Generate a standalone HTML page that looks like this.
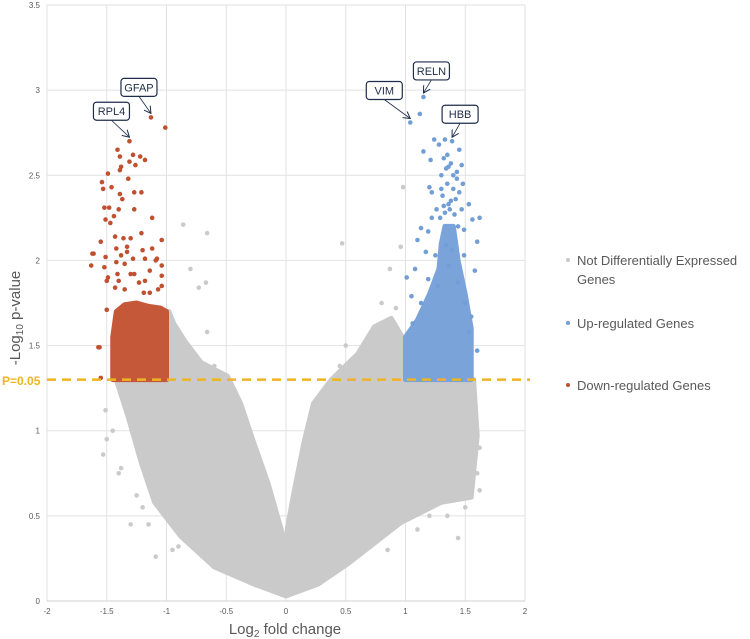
<!DOCTYPE html>
<html><head><meta charset="utf-8"><style>
body{margin:0;background:#fff;}
svg{display:block;font-family:"Liberation Sans",sans-serif;}
</style></head><body>
<svg id="chart" width="750" height="639" viewBox="0 0 750 639">
<g id="grid"></g>
<g id="ticks"></g>
<g id="marks"></g>
<g id="ann"></g>
<text x="285" y="634" text-anchor="middle" font-size="15" fill="#595959">Log<tspan font-size="10" dy="3">2</tspan><tspan dy="-3"> fold change</tspan></text>
<text transform="translate(20,318) rotate(-90)" text-anchor="middle" font-size="15" fill="#595959">-Log<tspan font-size="10" dy="3">10</tspan><tspan dy="-3"> p-value</tspan></text>
<text x="2" y="385" font-size="12" font-weight="bold" fill="#f0b323">P=0.05</text>
<g>
<g><circle cx="568" cy="260" r="2" fill="#c9c8c8"/><text x="577" y="265" font-size="13" fill="#595959">Not Differentially Expressed</text><text x="577" y="284" font-size="13" fill="#595959">Genes</text></g>
<g><circle cx="568" cy="323" r="2" fill="#729ed6"/><text x="577" y="328" font-size="13" fill="#595959">Up-regulated Genes</text></g>
<g><circle cx="568" cy="385" r="2" fill="#c0502f"/><text x="577" y="390" font-size="13" fill="#595959">Down-regulated Genes</text></g>
</g>
</svg>
<script>
const xTicks=[-2,-1.5,-1,-0.5,0,0.5,1,1.5,2];
const yTicks=[0,0.5,1,1.5,2,2.5,3,3.5];
const threshold=1.3;
const grayEnvX=[0,-0.27,-0.6,-0.88,-1.1,-1.21,-1.32,-1.42,-1.0,-0.98,-0.94,-0.85,-0.71,-0.49,-0.38,-0.27,-0.15,-0.04,0,0.01,0.07,0.15,0.23,0.38,0.6,0.74,0.88,0.99,1.0,1.57,1.6,1.55,1.3,0.96,0.74,0.52,0.27];
const grayEnvY=[0.03,0.1,0.2,0.38,0.58,0.81,1.08,1.3,1.3,1.7,1.63,1.53,1.4,1.32,1.16,0.93,0.69,0.42,0.27,0.42,0.65,0.93,1.16,1.3,1.45,1.61,1.66,1.53,1.3,1.3,0.97,0.61,0.58,0.46,0.34,0.22,0.1];
const redEnvX=[-1.45,-1.45,-1.42,-1.35,-1.25,-1.15,-1.05,-1.0,-1.0];
const redEnvY=[1.3,1.55,1.7,1.74,1.75,1.73,1.72,1.7,1.3];
const blueEnvX=[1.0,1.0,1.1,1.2,1.28,1.3,1.33,1.4,1.44,1.5,1.55,1.55];
const blueEnvY=[1.3,1.55,1.65,1.8,1.95,2.1,2.2,2.2,2.0,1.8,1.6,1.3];
const grayX=[-0.86,-0.66,-0.8,-0.67,-0.73,-0.66,0.87,0.96,0.47,0.98,1.44,-1.53,-1.09,-1.51,-1.5,-1.4,1.62,1.6,1.58,-1.3,-0.95,0.5,0.8,1.2,-1.2,-1.45,-1.38,-1.25,-1.15,-0.9,0.85,1.1,1.35,1.5,1.62,-0.6,0.45,0.7,0.92];
const grayY=[2.21,2.16,1.95,1.87,1.84,1.58,1.95,2.08,2.10,2.43,0.37,0.86,0.26,1.12,0.95,0.75,0.9,0.75,1.15,0.45,0.3,1.5,1.75,0.5,0.55,1.0,0.78,0.62,0.45,0.32,0.3,0.42,0.5,0.55,0.65,1.38,1.38,1.55,1.72];
const downX=[-1.13,-1.01,-1.31,-1.41,-1.39,-1.28,-1.22,-1.18,-1.31,-1.26,-1.38,-1.39,-1.49,-1.32,-1.54,-1.53,-1.46,-1.27,-1.21,-1.39,-1.37,-1.52,-1.48,-1.4,-1.27,-1.44,-1.51,-1.12,-1.47,-1.55,-1.43,-1.36,-1.3,-1.21,-1.04,-1.42,-1.33,-1.2,-1.12,-1.61,-1.63,-1.51,-1.38,-1.33,-1.28,-1.18,-1.08,-1.09,-1.52,-1.42,-1.35,-1.04,-1.49,-1.41,-1.3,-1.14,-1.5,-1.43,-1.35,-1.23,-1.18,-1.04,-1.4,-1.27,-1.04,-1.19,-1.14,-1.07,-1.5,-1.57,-1.56,-1.55,-1.62];
const downY=[2.84,2.78,2.70,2.65,2.61,2.62,2.61,2.59,2.58,2.56,2.55,2.53,2.51,2.48,2.46,2.42,2.43,2.40,2.40,2.39,2.36,2.31,2.31,2.30,2.30,2.26,2.24,2.25,2.22,2.11,2.14,2.13,2.13,2.16,2.12,2.07,2.08,2.06,2.07,2.04,1.97,2.02,2.03,2.05,2.01,2.01,2.01,2.0,1.96,1.99,1.98,1.97,1.9,1.92,1.92,1.94,1.88,1.84,1.83,1.87,1.88,1.91,1.88,1.92,1.85,1.81,1.81,1.83,1.71,1.49,1.49,1.31,2.04];
const upX=[1.15,1.12,1.04,1.39,1.24,1.33,1.45,1.15,1.28,1.21,1.47,1.34,1.2,1.43,1.3,1.48,1.22,1.53,1.38,1.22,1.13,1.1,1.19,1.56,1.62,1.6,1.49,1.17,1.01,1.08,1.58,1.05,1.6,1.53,1.44,1.34,1.25,1.39,1.49,1.36,1.44,1.27,1.19,1.13,1.5,1.55,1.06,1.32,1.36,1.4,1.35,1.31,1.42,1.37,1.33,1.41,1.29,1.38,1.35,1.43,1.3,1.4,1.36,1.32,1.45,1.26,1.47];
const upY=[2.96,2.86,2.81,2.70,2.71,2.71,2.65,2.64,2.68,2.59,2.56,2.54,2.43,2.48,2.42,2.45,2.40,2.33,2.35,2.25,2.19,2.12,2.17,2.24,2.25,2.11,2.18,2.05,1.90,1.95,1.94,1.79,1.47,1.58,2.20,2.09,2.03,2.06,2.03,1.97,1.87,1.85,1.89,1.75,1.75,1.67,1.63,2.6,2.55,2.5,2.45,2.38,2.36,2.3,2.28,2.27,2.25,2.57,2.62,2.52,2.5,2.42,2.33,2.32,2.4,2.3,2.3];
const labelNames=["GFAP","RPL4","VIM","RELN","HBB"];
const labelX=[-1.13,-1.31,1.04,1.15,1.39];
const labelY=[2.84,2.70,2.81,2.96,2.70];

const X0=47,X1=525,Y0=601,Y1=5;
const sx=v=>X0+(v+2)/4*(X1-X0);
const sy=v=>Y0-v/3.5*(Y0-Y1);
const NS="http://www.w3.org/2000/svg";
function mk(tag,attrs,parent){const e=document.createElementNS(NS,tag);for(const k in attrs)e.setAttribute(k,attrs[k]);parent.appendChild(e);return e;}
const grid=document.getElementById('grid'),ticks=document.getElementById('ticks'),marks=document.getElementById('marks'),ann=document.getElementById('ann');
xTicks.forEach(t=>{
  const l=mk('line',{x1:sx(t),x2:sx(t),y1:Y1,y2:Y0,stroke:'#e2e2e2','stroke-width':1},grid);
  
  
  const tx=mk('text',{x:sx(t),y:614,'text-anchor':'middle','font-size':8,fill:'#595959'},ticks);
  tx.textContent=t;
  
  
});
yTicks.forEach(t=>{
  const l=mk('line',{x1:X0,x2:X1,y1:sy(t),y2:sy(t),stroke:'#e2e2e2','stroke-width':1},grid);
  
  
  const tx=mk('text',{x:40,y:sy(t)+3,'text-anchor':'end','font-size':8,fill:'#595959'},ticks);
  tx.textContent=t;
  
  
});
const ax=mk('line',{x1:X0,x2:X1,y1:Y0,y2:Y0,stroke:'#d0d0d0','stroke-width':1},grid);


function env(xs,ys,fill,name){
  const pts=xs.map((x,i)=>sx(x)+','+sy(ys[i])).join(' ');
  const p=mk('polygon',{points:pts,fill:fill,stroke:fill,'stroke-width':5,'stroke-linejoin':'round'},marks);
  
  
}
function dots(xs,ys,fill,name){
  xs.forEach((x,i)=>{
    const c=mk('circle',{cx:sx(x),cy:sy(ys[i]),r:2.3,fill:fill},marks);
    
    
  });
}
env(grayEnvX,grayEnvY,'#cbcaca','not-de-gene-cloud');
dots(grayX,grayY,'#cbcaca','not-de-gene-point');
env(redEnvX,redEnvY,'#c6583a','down-regulated-cluster');
env(blueEnvX,blueEnvY,'#7aa3d9','up-regulated-cluster');
dots(downX,downY,'#c0502f','down-regulated-point');
dots(upX,upY,'#729ed6','up-regulated-point');
const th=mk('line',{x1:X0,x2:X1+5,y1:sy(threshold),y2:sy(threshold),stroke:'#f0b323','stroke-width':2.5,'stroke-dasharray':'9,6'},marks);


const boxDX=[-12,-18,-26,8,8],boxDY=[-30,-30,-32,-26,-27];
const defs=mk('defs',{},ann);
const mkr=mk('marker',{id:'ar',markerWidth:8,markerHeight:8,refX:7,refY:4,orient:'auto',markerUnits:'userSpaceOnUse'},defs);
mk('path',{d:'M0,0 L7,4 L0,8',fill:'none',stroke:'#1f2d4a','stroke-width':1},mkr);
labelNames.forEach((n,i)=>{
  const px=sx(labelX[i]),py=sy(labelY[i]);
  const bx=px+boxDX[i],by=py+boxDY[i];
  const g=mk('g',{},ann);
  
  
  mk('line',{x1:bx,y1:by+9,x2:px,y2:py-4,stroke:'#1f2d4a','stroke-width':0.8,'marker-end':'url(#ar)'},g);
  mk('rect',{x:bx-18,y:by-9,width:36,height:18,rx:3,fill:'#fff',stroke:'#1f2d4a','stroke-width':1.2},g);
  const t=mk('text',{x:bx,y:by+4,'text-anchor':'middle','font-size':11,fill:'#1f2d4a'},g);
  t.textContent=n;
});
</script>
</body></html>
